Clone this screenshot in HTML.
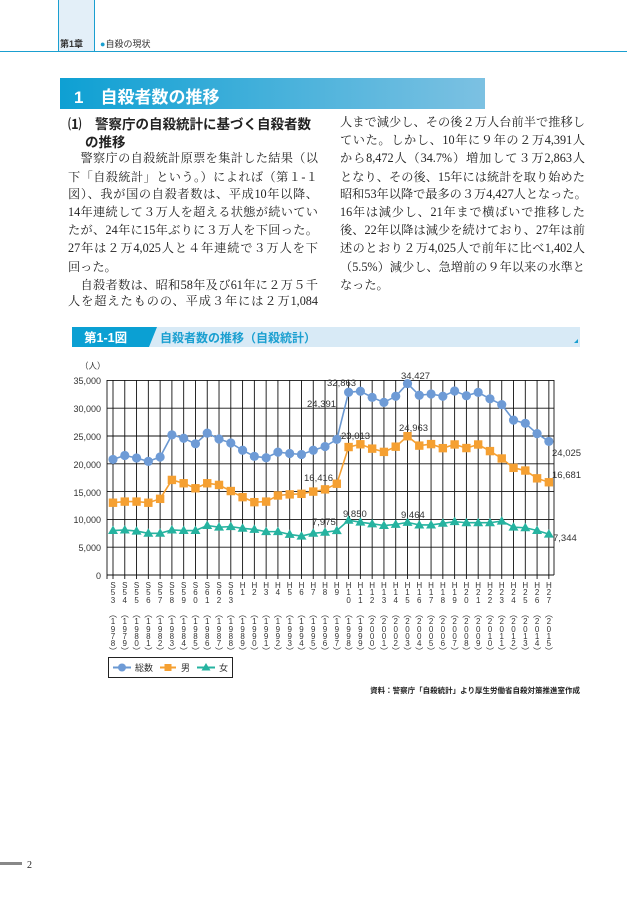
<!DOCTYPE html>
<html><head><meta charset="utf-8"><style>
*{margin:0;padding:0}
body{width:627px;height:897px;position:relative;background:#fff;font-family:"Liberation Serif","Noto Serif CJK SC","Noto Sans CJK JP",serif;color:#222;overflow:hidden}
.a{position:absolute;white-space:nowrap}
.ln{position:absolute;font-size:12.2px;line-height:14px;white-space:nowrap;text-align:justify;text-align-last:justify}
.g{font-family:"Liberation Sans","Noto Sans CJK JP",sans-serif}
.xl{position:absolute;left:107px;top:582px;width:448px;font-family:"Liberation Sans","Noto Sans CJK JP",sans-serif;font-size:8px;color:#333}
.col{position:absolute;width:10px;text-align:center;line-height:7.3px}
</style></head><body>
<div class="a" style="left:58px;top:0;width:35px;height:51px;background:#e3eff8;border-left:1px solid #1a9fd0;border-right:1px solid #1a9fd0"></div>
<div class="a" style="left:0;top:51px;width:627px;height:1px;background:#1a9fd0"></div>
<div class="a g" style="left:60px;top:37px;font-size:9px;font-weight:bold;color:#333">第1章</div>
<div class="a g" style="left:100px;top:37px;font-size:9px;color:#333"><span style="color:#1a9fd0">●</span>自殺の現状</div>
<div class="a g" style="left:60px;top:78px;width:425px;height:31px;background:linear-gradient(90deg,#0ea0d3,#7cc1e2)"></div>
<div class="a g" style="left:74px;top:83px;font-size:17px;font-weight:bold;color:#fff">1　自殺者数の推移</div>

<div class="a g" style="left:68px;top:113px;font-size:13.5px;font-weight:bold">⑴　警察庁の自殺統計に基づく自殺者数</div>
<div class="a g" style="left:85px;top:131px;font-size:13.5px;font-weight:bold">の推移</div>
<div class="ln" style="left:68px;top:151px;width:250px">　警察庁の自殺統計原票を集計した結果（以</div>
<div class="ln" style="left:68px;top:170px;width:250px">下「自殺統計」という。）によれば（第１-１</div>
<div class="ln" style="left:68px;top:187px;width:250px">図）、我が国の自殺者数は、平成10年以降、</div>
<div class="ln" style="left:68px;top:205px;width:250px">14年連続して３万人を超える状態が続いてい</div>
<div class="ln" style="left:68px;top:223px;width:250px">たが、24年に15年ぶりに３万人を下回った。</div>
<div class="ln" style="left:68px;top:241px;width:250px">27年は２万4,025人と４年連続で３万人を下</div>
<div class="ln" style="left:68px;top:260px;text-align:left;text-align-last:left">回った。</div>
<div class="ln" style="left:68px;top:278px;width:250px">　自殺者数は、昭和58年及び61年に２万５千</div>
<div class="ln" style="left:68px;top:294px;width:250px">人を超えたものの、平成３年には２万1,084</div>
<div class="ln" style="left:340px;top:115px;width:245px">人まで減少し、その後２万人台前半で推移し</div>
<div class="ln" style="left:340px;top:133px;width:245px">ていた。しかし、10年に９年の２万4,391人</div>
<div class="ln" style="left:340px;top:151px;width:245px">から8,472人（34.7%）増加して３万2,863人</div>
<div class="ln" style="left:340px;top:170px;width:245px">となり、その後、15年には統計を取り始めた</div>
<div class="ln" style="left:340px;top:187px;width:245px">昭和53年以降で最多の３万4,427人となった。</div>
<div class="ln" style="left:340px;top:205px;width:245px">16年は減少し、21年まで横ばいで推移した</div>
<div class="ln" style="left:340px;top:223px;width:245px">後、22年以降は減少を続けており、27年は前</div>
<div class="ln" style="left:340px;top:241px;width:245px">述のとおり２万4,025人で前年に比べ1,402人</div>
<div class="ln" style="left:340px;top:260px;width:245px">（5.5%）減少し、急増前の９年以来の水準と</div>
<div class="ln" style="left:340px;top:278px;text-align:left;text-align-last:left">なった。</div>

<svg class="a" style="left:0;top:0" width="627" height="897">
<rect x="72" y="327" width="508" height="20" fill="#d8eaf6"/>
<polygon points="72,327 157,327 149,347 72,347" fill="#0ba0d3"/>
<text x="84" y="342" font-family="Liberation Sans,Noto Sans CJK JP,sans-serif" font-size="12.5" font-weight="bold" fill="#fff">第1-1図</text>
<text x="160" y="342" font-family="Liberation Sans,Noto Sans CJK JP,sans-serif" font-size="12" font-weight="bold" fill="#1a9fd0">自殺者数の推移（自殺統計）</text>
<polygon points="578,339 578,343 574,343" fill="#1a9fd0"/>
<g id="grid" stroke="#111" stroke-width="0.9"></g>
<g font-family="Liberation Sans,DejaVu Sans,sans-serif" font-size="9" fill="#333" text-anchor="end">
<text x="101" y="384">35,000</text><text x="101" y="412">30,000</text><text x="101" y="440">25,000</text><text x="101" y="468">20,000</text><text x="101" y="496">15,000</text><text x="101" y="523">10,000</text><text x="101" y="551">5,000</text><text x="101" y="579">0</text>
</g>
<text x="80" y="369" font-family="Liberation Sans,Noto Sans CJK JP,sans-serif" font-size="8.5" fill="#333">（人）</text>
<g id="ser"></g>
<g font-family="Liberation Sans,DejaVu Sans,sans-serif" font-size="9.5" fill="#333">
<text x="327" y="386">32,863</text><text x="401" y="379">34,427</text><text x="307" y="407">24,391</text><text x="341" y="439">23,013</text><text x="399" y="431">24,963</text><text x="304" y="481">16,416</text><text x="343" y="517">9,850</text><text x="401" y="518">9,464</text><text x="312" y="525">7,975</text><text x="552" y="456">24,025</text><text x="552" y="478">16,681</text><text x="553" y="541">7,344</text>
</g>
<rect x="108.5" y="657.5" width="124" height="20" fill="none" stroke="#222" stroke-width="1"/>
<line x1="113" y1="667.5" x2="131" y2="667.5" stroke="#6a98d2" stroke-width="2"/><circle cx="122" cy="667.5" r="4" fill="#6e9bd6"/>
<line x1="160" y1="667.5" x2="176" y2="667.5" stroke="#f5a032" stroke-width="2"/><rect x="164.5" y="664" width="7" height="7" fill="#f5a032"/>
<line x1="197" y1="667.5" x2="215" y2="667.5" stroke="#26b3a0" stroke-width="2"/><polygon points="206,663 210.5,670.5 201.5,670.5" fill="#26b3a0"/>
<g font-family="Liberation Sans,Noto Sans CJK JP,sans-serif" font-size="9" fill="#333"><text x="135" y="671">総数</text><text x="181" y="671">男</text><text x="219" y="671">女</text></g>
<text x="580" y="693" text-anchor="end" font-family="Liberation Sans,Noto Sans CJK JP,sans-serif" font-size="7.5" font-weight="bold" fill="#222">資料：警察庁「自殺統計」より厚生労働省自殺対策推進室作成</text>
<rect x="0" y="862" width="22" height="3" fill="#888"/>
<text x="27" y="868" font-family="Liberation Serif,serif" font-size="10" fill="#222">2</text>
</svg>

<div class="xl" id="xl">
<div class="col">S<br>5<br>3<br><br>︵<br>1<br>9<br>7<br>8<br>︶</div>
<div class="col">S<br>5<br>4<br><br>︵<br>1<br>9<br>7<br>9<br>︶</div>
<div class="col">S<br>5<br>5<br><br>︵<br>1<br>9<br>8<br>0<br>︶</div>
<div class="col">S<br>5<br>6<br><br>︵<br>1<br>9<br>8<br>1<br>︶</div>
<div class="col">S<br>5<br>7<br><br>︵<br>1<br>9<br>8<br>2<br>︶</div>
<div class="col">S<br>5<br>8<br><br>︵<br>1<br>9<br>8<br>3<br>︶</div>
<div class="col">S<br>5<br>9<br><br>︵<br>1<br>9<br>8<br>4<br>︶</div>
<div class="col">S<br>6<br>0<br><br>︵<br>1<br>9<br>8<br>5<br>︶</div>
<div class="col">S<br>6<br>1<br><br>︵<br>1<br>9<br>8<br>6<br>︶</div>
<div class="col">S<br>6<br>2<br><br>︵<br>1<br>9<br>8<br>7<br>︶</div>
<div class="col">S<br>6<br>3<br><br>︵<br>1<br>9<br>8<br>8<br>︶</div>
<div class="col">H<br>1<br><br><br>︵<br>1<br>9<br>8<br>9<br>︶</div>
<div class="col">H<br>2<br><br><br>︵<br>1<br>9<br>9<br>0<br>︶</div>
<div class="col">H<br>3<br><br><br>︵<br>1<br>9<br>9<br>1<br>︶</div>
<div class="col">H<br>4<br><br><br>︵<br>1<br>9<br>9<br>2<br>︶</div>
<div class="col">H<br>5<br><br><br>︵<br>1<br>9<br>9<br>3<br>︶</div>
<div class="col">H<br>6<br><br><br>︵<br>1<br>9<br>9<br>4<br>︶</div>
<div class="col">H<br>7<br><br><br>︵<br>1<br>9<br>9<br>5<br>︶</div>
<div class="col">H<br>8<br><br><br>︵<br>1<br>9<br>9<br>6<br>︶</div>
<div class="col">H<br>9<br><br><br>︵<br>1<br>9<br>9<br>7<br>︶</div>
<div class="col">H<br>1<br>0<br><br>︵<br>1<br>9<br>9<br>8<br>︶</div>
<div class="col">H<br>1<br>1<br><br>︵<br>1<br>9<br>9<br>9<br>︶</div>
<div class="col">H<br>1<br>2<br><br>︵<br>2<br>0<br>0<br>0<br>︶</div>
<div class="col">H<br>1<br>3<br><br>︵<br>2<br>0<br>0<br>1<br>︶</div>
<div class="col">H<br>1<br>4<br><br>︵<br>2<br>0<br>0<br>2<br>︶</div>
<div class="col">H<br>1<br>5<br><br>︵<br>2<br>0<br>0<br>3<br>︶</div>
<div class="col">H<br>1<br>6<br><br>︵<br>2<br>0<br>0<br>4<br>︶</div>
<div class="col">H<br>1<br>7<br><br>︵<br>2<br>0<br>0<br>5<br>︶</div>
<div class="col">H<br>1<br>8<br><br>︵<br>2<br>0<br>0<br>6<br>︶</div>
<div class="col">H<br>1<br>9<br><br>︵<br>2<br>0<br>0<br>7<br>︶</div>
<div class="col">H<br>2<br>0<br><br>︵<br>2<br>0<br>0<br>8<br>︶</div>
<div class="col">H<br>2<br>1<br><br>︵<br>2<br>0<br>0<br>9<br>︶</div>
<div class="col">H<br>2<br>2<br><br>︵<br>2<br>0<br>1<br>0<br>︶</div>
<div class="col">H<br>2<br>3<br><br>︵<br>2<br>0<br>1<br>1<br>︶</div>
<div class="col">H<br>2<br>4<br><br>︵<br>2<br>0<br>1<br>2<br>︶</div>
<div class="col">H<br>2<br>5<br><br>︵<br>2<br>0<br>1<br>3<br>︶</div>
<div class="col">H<br>2<br>6<br><br>︵<br>2<br>0<br>1<br>4<br>︶</div>
<div class="col">H<br>2<br>7<br><br>︵<br>2<br>0<br>1<br>5<br>︶</div>
</div>
<script>
var X0=113,DX=11.78,Y0=575,K=194.6/35000;
function xx(i){return X0+i*DX}function yy(v){return Y0-v*K}
var NS="http://www.w3.org/2000/svg";
function el(p,t,a){var e=document.createElementNS(NS,t);for(var k in a)e.setAttribute(k,a[k]);p.appendChild(e);return e}
var g=document.getElementById("grid");
for(var v=0;v<=35000;v+=5000)el(g,"line",{x1:107,x2:554,y1:yy(v),y2:yy(v)});
el(g,"line",{x1:107,x2:107,y1:380,y2:579});el(g,"line",{x1:554,x2:554,y1:380,y2:575});
for(var i=0;i<38;i++)el(g,"line",{x1:xx(i),x2:xx(i),y1:380,y2:579});
var cols=document.querySelectorAll("#xl .col");
for(var i=0;i<cols.length;i++){cols[i].style.left=(xx(i)-107-5)+"px";}
var T=[20788,21503,21048,20434,21228,25202,24596,23599,25524,24460,23742,22436,21346,21084,22104,21851,21679,22445,23104,24391,32863,33048,31957,31042,32143,34427,32325,32552,32155,33093,32249,32845,31690,30651,27858,27283,25427,24025];
var M=[13000,13200,13200,13000,13700,17100,16500,15600,16500,16200,15100,14000,13100,13200,14300,14500,14600,15000,15400,16416,23013,23512,22727,22144,23080,24963,23272,23540,22813,23478,22831,23472,22283,20955,19273,18787,17386,16681];
var F=[8000,8100,7900,7500,7500,8100,8000,8000,8900,8600,8700,8400,8200,7800,7800,7300,7000,7500,7700,7975,9850,9500,9200,8900,9100,9464,9000,9000,9300,9600,9400,9400,9400,9700,8600,8500,8000,7344];
var s=document.getElementById("ser");
function line(d,c){var p=d.map(function(v,i){return xx(i)+","+yy(v)}).join(" ");el(s,"polyline",{points:p,fill:"none",stroke:c,"stroke-width":1.6});}
line(T,"#6a98d2");line(M,"#f5a032");line(F,"#26b3a0");
T.forEach(function(v,i){el(s,"circle",{cx:xx(i),cy:yy(v),r:4.6,fill:"#6e9bd6"})});
M.forEach(function(v,i){el(s,"rect",{x:xx(i)-4.2,y:yy(v)-4.2,width:8.4,height:8.4,fill:"#f5a032"})});
F.forEach(function(v,i){var x=xx(i),y=yy(v);el(s,"polygon",{points:x+","+(y-5)+" "+(x+5)+","+(y+3.5)+" "+(x-5)+","+(y+3.5),fill:"#26b3a0"})});
</script>
</body></html>
